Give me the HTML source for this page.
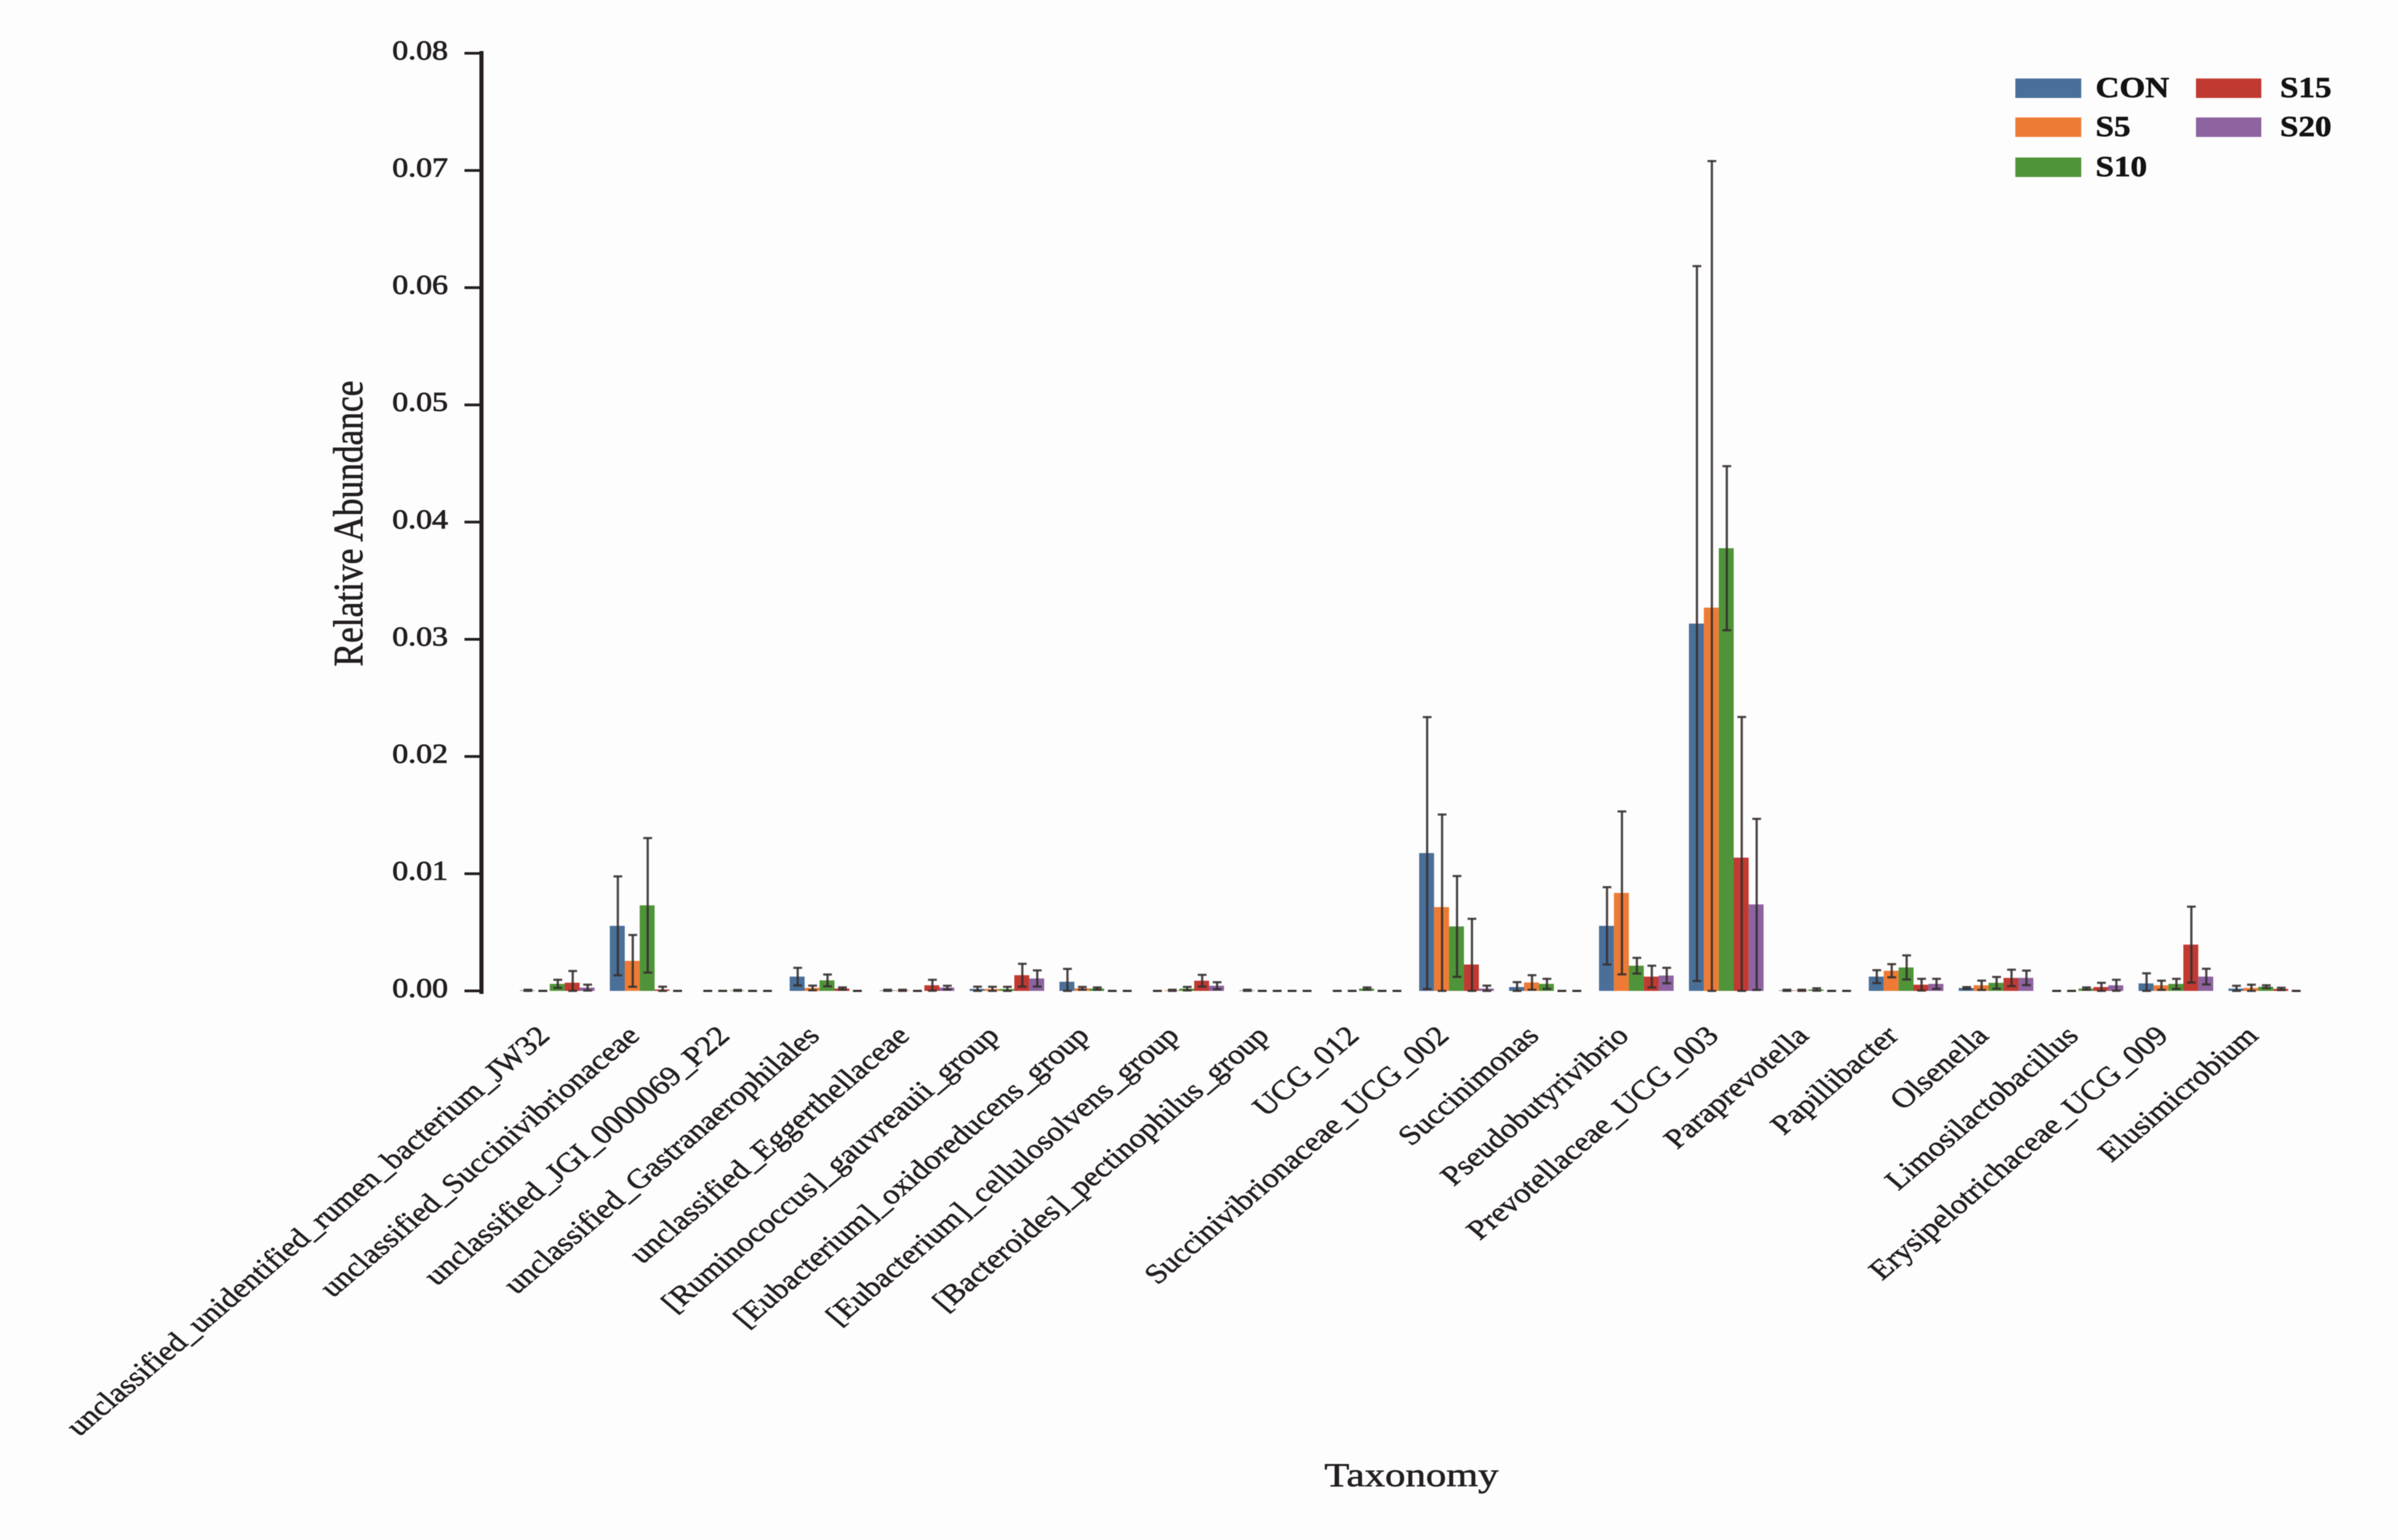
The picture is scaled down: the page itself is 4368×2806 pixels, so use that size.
<!DOCTYPE html>
<html lang="en">
<head>
<meta charset="utf-8">
<title>Relative Abundance by Taxonomy</title>
<style>
html,body{margin:0;padding:0;background:#fefdfd;}
svg{display:block;filter:blur(0.9px);}
text{font-family:"Liberation Serif",serif;fill:#231f20;stroke:#231f20;stroke-width:0.9px;}
</style>
</head>
<body>
<svg id="chart" xmlns="http://www.w3.org/2000/svg" width="4368" height="2806" viewBox="0 0 4368 2806">
<rect x="0" y="0" width="4368" height="2806" fill="#fefdfd"/>
<g id="bars"></g>
<g id="errors"></g>
<g id="yaxis"></g>
<g id="xlabels"></g>
<text transform="translate(660,954) scale(1.18,1) rotate(-90)" text-anchor="middle" font-size="64.5">Relative Abundance</text>
<text transform="translate(2571,2708) scale(1.22,1)" text-anchor="middle" font-size="61">Taxonomy</text>
<g id="legend"></g>
</svg>
<script>
const categories = [
  "unclassified_unidentified_rumen_bacterium_JW32",
  "unclassified_Succinivibrionaceae",
  "unclassified_JGI_0000069_P22",
  "unclassified_Gastranaerophilales",
  "unclassified_Eggerthellaceae",
  "[Ruminococcus]_gauvreauii_group",
  "[Eubacterium]_oxidoreducens_group",
  "[Eubacterium]_cellulosolvens_group",
  "[Bacteroides]_pectinophilus_group",
  "UCG_012",
  "Succinivibrionaceae_UCG_002",
  "Succinimonas",
  "Pseudobutyrivibrio",
  "Prevotellaceae_UCG_003",
  "Paraprevotella",
  "Papillibacter",
  "Olsenella",
  "Limosilactobacillus",
  "Erysipelotrichaceae_UCG_009",
  "Elusimicrobium"
];
const seriesNames = ["CON", "S5", "S10", "S15", "S20"];
const seriesColors = ["#4a7099", "#ee7b35", "#4f9439", "#c13a31", "#8d63a0"];

const conMeans = [0.00005,0.00555,0,0.00122,0.00005,0.00017,0.00078,0,0.00005,0,0.01176,0.00033,0.00555,0.03134,0.00005,0.00122,0.00025,0,0.00064,0.0002];
const s5Means  = [0,0.00256,0,0.00025,0.00005,0.00016,0.00022,0.00005,0,0,0.00715,0.00072,0.00836,0.0327,0.00005,0.00172,0.00048,0,0.00048,0.00025];
const s10Means = [0.0006,0.0073,0.00004,0.0009,0,0.00016,0.0002,0.00019,0,0.0002,0.0055,0.0006,0.00215,0.03777,0.00012,0.002,0.00069,0.0002,0.0006,0.00036];
const s15Means = [0.0007,0.00012,0,0.0002,0.00048,0.00134,0,0.00087,0,0,0.00225,0,0.00122,0.01137,0,0.00053,0.00111,0.00033,0.00395,0.00017];
const s20Means = [0.00028,0,0,0,0.00028,0.00106,0,0.00044,0,0,0.0002,0,0.00131,0.00738,0,0.0006,0.00111,0.00048,0.00122,0];

const conErrors = [0.00005,0.00422,0,0.00075,0.00005,0.00019,0.0011,0,0.00005,0,0.0116,0.00042,0.0033,0.0305,0.00005,0.00055,0.00008,0,0.00086,0.00024];
const s5Errors  = [0,0.00221,0,0.0002,0.00005,0.00019,0.00012,0.00005,0,0,0.0079,0.00062,0.00695,0.0381,0.00005,0.00056,0.0004,0,0.00039,0.00028];
const s10Errors = [0.00035,0.00574,0.00004,0.0005,0,0.00019,0.0001,0.00015,0,0.0001,0.0043,0.00043,0.00067,0.007,0.0001,0.00103,0.0005,0.0001,0.00043,0.00012];
const s15Errors = [0.001,0.00024,0,0.0001,0.00047,0.00097,0,0.0005,0,0,0.0039,0,0.00093,0.012,0,0.0005,0.0007,0.00036,0.00324,0.0001];
const s20Errors = [0.00025,0,0,0,0.00016,0.00069,0,0.0003,0,0,0.00025,0,0.00066,0.0073,0,0.00043,0.00062,0.00047,0.00067,0];

const yTickValues = [0,0.01,0.02,0.03,0.04,0.05,0.06,0.07,0.08];
const yTickLabels = ["0.00","0.01","0.02","0.03","0.04","0.05","0.06","0.07","0.08"];

const allMeans = [conMeans, s5Means, s10Means, s15Means, s20Means];
const allErrors = [conErrors, s5Errors, s10Errors, s15Errors, s20Errors];

const SVGNS = "http://www.w3.org/2000/svg";
const Y_ZERO = 1805.5, Y_PER_UNIT = 21356;
const GROUP_START = 947, GROUP_STEP = 163.8, BAR_W = 27.2;
function yScale(v){ return Y_ZERO - v * Y_PER_UNIT; }
function barLeft(cat, ser){ return GROUP_START + cat * GROUP_STEP + ser * BAR_W; }
function mk(tag, attrs, parent){
  const el = document.createElementNS(SVGNS, tag);
  for (const k in attrs) el.setAttribute(k, attrs[k]);
  parent.appendChild(el);
  return el;
}

const barsG = document.getElementById("bars");
const errG = document.getElementById("errors");
const ERR = "#352f2f";
allMeans.forEach(function(vals, s){
  vals.forEach(function(v, c){
    const x = barLeft(c, s);
    if (v > 0) {
      const bar = mk("rect", {x: x, y: yScale(v), width: BAR_W, height: Y_ZERO - yScale(v), fill: seriesColors[s]}, barsG);
      
      
    }
    const e = allErrors[s][c];
    const cx = x + BAR_W / 2 + 1;
    const hi = yScale(v + e), lo = yScale(Math.max(0, v - e));
    const g = mk("g", {stroke: ERR, "stroke-opacity": 0.88, fill: "none"}, errG);
    
    
    mk("line", {x1: cx, x2: cx, y1: hi, y2: lo, "stroke-width": 4.2}, g);
    mk("line", {x1: cx - 8, x2: cx + 8, y1: hi, y2: hi, "stroke-width": 4}, g);
    mk("line", {x1: cx - 8, x2: cx + 8, y1: lo, y2: lo, "stroke-width": 4}, g);
  });
});

const axisG = document.getElementById("yaxis");
const axisLine = mk("line", {x1: 877, x2: 877, y1: 93, y2: 1811, stroke: "#231f20", "stroke-width": 7.5}, axisG);


yTickValues.forEach(function(v, i){
  const y = yScale(v);
  const tick = mk("line", {x1: 846, x2: 877, y1: y, y2: y, stroke: "#231f20", "stroke-width": 5}, axisG);
  
  
  const t = mk("text", {transform: "translate(816," + (y + 11) + ") scale(1.16,1)", "text-anchor": "end", "font-size": 50, style: "stroke-width:1.3px"}, axisG);
  
  
  t.textContent = yTickLabels[i];
});

const xG = document.getElementById("xlabels");
categories.forEach(function(name, c){
  const cx = GROUP_START + c * GROUP_STEP + 2.5 * BAR_W - 11;
  const t = mk("text", {transform: "translate(" + cx + ",1890) scale(1.18,1) rotate(-45)", "text-anchor": "end", "font-size": 50.3}, xG);
  
  
  t.textContent = name;
});

const legendG = document.getElementById("legend");
const legendCols = [3671, 3671, 3671, 4000, 4000];
const legendRows = [143, 214, 287, 143, 214];
seriesNames.forEach(function(name, i){
  const sw = mk("rect", {x: legendCols[i], y: legendRows[i], width: i < 3 ? 120 : 119, height: 35.5, fill: seriesColors[i]}, legendG);
  
  
  const t = mk("text", {transform: "translate(" + (legendCols[i] + (i < 3 ? 146 : 153)) + "," + (legendRows[i] + 34) + ") scale(1.14,1)", "font-size": 53, "font-weight": "bold", style: "fill:#141212;stroke:#141212"}, legendG);
  
  
  t.textContent = name;
});
</script>
</body>
</html>
